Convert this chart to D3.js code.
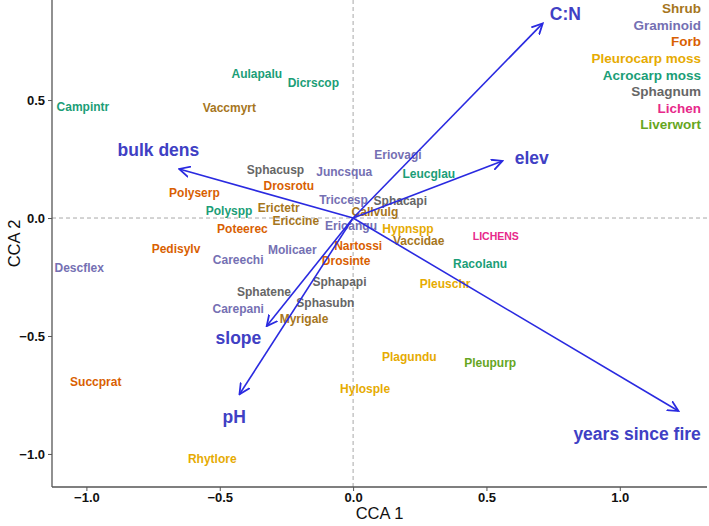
<!DOCTYPE html>
<html>
<head>
<meta charset="utf-8">
<script src="https://cdn.jsdelivr.net/npm/d3@7"></script>
<style>
  body { margin: 0; background: #fff; }
  svg { display: block; font-family: "Liberation Sans", Arial, sans-serif; }
</style>
</head>
<body>
<svg id="cca" width="709" height="526"></svg>
<script>
// species scores
var species = ["Aulapalu", "Dicrscop", "Campintr", "Vaccmyrt", "Sphacusp", "Drosrotu", "Polyserp",
    "Polyspp", "Erictetr", "Ericcine", "Poteerec", "Pedisylv", "Molicaer", "Juncsqua", "Eriovagi",
    "Leucglau", "Triccesp", "Sphacapi", "Callvulg", "Erioangu", "Hypnspp", "Vaccidae", "Nartossi",
    "Drosinte", "Careechi", "Sphapapi", "Sphatene", "Sphasubn", "Carepani", "Myrigale", "LICHENS",
    "Descflex", "Succprat", "Rhytlore", "Racolanu", "Pleuschr", "Plagundu", "Pleupurp", "Hylosple"];
var cca1 = [-0.361, -0.149, -1.013, -0.464, -0.291, -0.241, -0.595,
    -0.465, -0.279, -0.215, -0.415, -0.664, -0.228, -0.033, 0.168,
    0.284, -0.036, 0.177, 0.082, -0.008, 0.206, 0.246, 0.019,
    -0.026, -0.431, -0.051, -0.334, -0.104, -0.431, -0.184, 0.535,
    -1.027, -0.965, -0.528, 0.476, 0.345, 0.211, 0.514, 0.045];
var cca2 = [0.610, 0.571, 0.472, 0.469, 0.203, 0.136, 0.107,
    0.031, 0.042, -0.011, -0.047, -0.129, -0.136, 0.195, 0.268,
    0.189, 0.076, 0.072, 0.025, -0.031, -0.045, -0.097, -0.116,
    -0.182, -0.179, -0.271, -0.312, -0.361, -0.383, -0.427, -0.076,
    -0.211, -0.694, -1.020, -0.192, -0.277, -0.590, -0.614, -0.725];
var group = ["Acrocarp moss", "Acrocarp moss", "Acrocarp moss", "Shrub", "Sphagnum", "Forb", "Forb",
    "Acrocarp moss", "Shrub", "Shrub", "Forb", "Forb", "Graminoid", "Graminoid", "Graminoid",
    "Acrocarp moss", "Graminoid", "Sphagnum", "Shrub", "Graminoid", "Pleurocarp moss", "Shrub", "Forb",
    "Forb", "Graminoid", "Sphagnum", "Sphagnum", "Sphagnum", "Graminoid", "Shrub", "Lichen",
    "Graminoid", "Forb", "Pleurocarp moss", "Acrocarp moss", "Pleurocarp moss", "Pleurocarp moss", "Liverwort", "Pleurocarp moss"];

// environmental vectors
var envNames = ["C:N", "elev", "years since fire", "bulk dens", "slope", "pH"];
var envX = [0.711, 0.560, 1.220, -0.652, -0.324, -0.426];
var envY = [0.825, 0.242, -0.818, 0.208, -0.458, -0.747];
var envLabelX = [0.796, 0.670, 1.065, -0.730, -0.430, -0.446];
var envLabelY = [0.865, 0.255, -0.915, 0.290, -0.510, -0.842];

var groups = ["Shrub", "Graminoid", "Forb", "Pleurocarp moss", "Acrocarp moss", "Sphagnum", "Lichen", "Liverwort"];
var groupColors = ["#A6761D", "#7570B3", "#D95F02", "#E6AB02", "#1B9E77", "#666666", "#E7298A", "#66A61E"];

var xTicks = [-1.0, -0.5, 0.0, 0.5, 1.0];
var yTicks = [0.5, 0.0, -0.5, -1.0];

var svg = d3.select("#cca");
var panelLeft = 52, panelRight = 707, panelTop = 0, panelBottom = 487;

var x = d3.scaleLinear().domain([-1.129, 1.327]).range([panelLeft, panelRight]);
var y = d3.scaleLinear().domain([-1.14, 0.924]).range([panelBottom, panelTop]);
var color = d3.scaleOrdinal().domain(groups).range(groupColors);

// zero lines
svg.append("line")
    .attr("x1", x(0)).attr("x2", x(0)).attr("y1", panelTop).attr("y2", panelBottom)
    .attr("stroke", "#a8a8a8").attr("stroke-dasharray", "4,3");
svg.append("line")
    .attr("x1", panelLeft).attr("x2", panelRight).attr("y1", y(0)).attr("y2", y(0))
    .attr("stroke", "#a8a8a8").attr("stroke-dasharray", "4,3");

// axes
var xAxis = svg.append("g")
    .attr("transform", "translate(0," + panelBottom + ")")
    .call(d3.axisBottom(x).tickValues(xTicks).tickFormat(d3.format(".1f")).tickSizeOuter(0).tickSize(4).tickPadding(2));
var yAxis = svg.append("g")
    .attr("transform", "translate(" + panelLeft + ",0)")
    .call(d3.axisLeft(y).tickValues(yTicks).tickFormat(d3.format(".1f")).tickSizeOuter(0).tickSize(4).tickPadding(3));

[xAxis, yAxis].forEach(function (g) {
    g.select(".domain").attr("stroke", "#555").attr("stroke-width", 1.3);
    g.selectAll(".tick line").attr("stroke", "#555");
    g.selectAll(".tick text")
        .attr("fill", "#111")
        .attr("font-size", 13)
        .attr("font-weight", "bold")
        .attr("font-family", "Liberation Sans, Arial, sans-serif");
});
xAxis.select(".domain").attr("d", "M" + panelLeft + ",0H" + panelRight);
yAxis.select(".domain").attr("d", "M0," + panelTop + "V" + panelBottom);

svg.append("text")
    .attr("x", (panelLeft + panelRight) / 2).attr("y", 519)
    .attr("text-anchor", "middle")
    .attr("font-size", 16.5)
    .attr("fill", "#111")
    .text("CCA 1");
svg.append("text")
    .attr("transform", "translate(20," + (panelTop + panelBottom) / 2 + ") rotate(-90)")
    .attr("text-anchor", "middle")
    .attr("font-size", 16.5)
    .attr("fill", "#111")
    .text("CCA 2");

// species labels
svg.append("g").selectAll("text")
    .data(species)
    .enter()
    .append("text")
    .attr("x", function (d, i) { return x(cca1[i]); })
    .attr("y", function (d, i) { return y(cca2[i]); })
    .attr("dy", "0.35em")
    .attr("text-anchor", "middle")
    .attr("font-weight", "bold")
    .attr("font-size", function (d) { return d === "LICHENS" ? 10.5 : 12; })
    .attr("fill", function (d, i) { return color(group[i]); })
    .text(function (d) { return d; });

// arrow head
svg.append("defs").append("marker")
    .attr("id", "head")
    .attr("viewBox", "0 0 10 10")
    .attr("refX", 9).attr("refY", 5)
    .attr("markerUnits", "userSpaceOnUse")
    .attr("markerWidth", 12).attr("markerHeight", 12)
    .attr("orient", "auto")
    .append("path")
    .attr("d", "M0,0.5L9,5L0,9.5")
    .attr("fill", "none")
    .attr("stroke", "#2a2ae0")
    .attr("stroke-width", 1.5);

svg.append("g").selectAll("line")
    .data(envNames)
    .enter()
    .append("line")
    .attr("x1", x(0)).attr("y1", y(0))
    .attr("x2", function (d, i) { return x(envX[i]); })
    .attr("y2", function (d, i) { return y(envY[i]); })
    .attr("stroke", "#2a2ae0")
    .attr("stroke-width", 1.6)
    .attr("marker-end", "url(#head)");

svg.append("g").selectAll("text")
    .data(envNames)
    .enter()
    .append("text")
    .attr("x", function (d, i) { return x(envLabelX[i]); })
    .attr("y", function (d, i) { return y(envLabelY[i]); })
    .attr("dy", "0.35em")
    .attr("text-anchor", "middle")
    .attr("font-weight", "bold")
    .attr("font-size", 17.5)
    .attr("fill", "#4040c4")
    .text(function (d) { return d; });

// legend
svg.append("g").selectAll("text")
    .data(groups)
    .enter()
    .append("text")
    .attr("x", 701)
    .attr("y", function (d, i) { return 8.5 + i * 16.6; })
    .attr("dy", "0.35em")
    .attr("text-anchor", "end")
    .attr("font-weight", "bold")
    .attr("font-size", 13.5)
    .attr("fill", function (d) { return color(d); })
    .text(function (d) { return d; });
</script>
</body>
</html>
